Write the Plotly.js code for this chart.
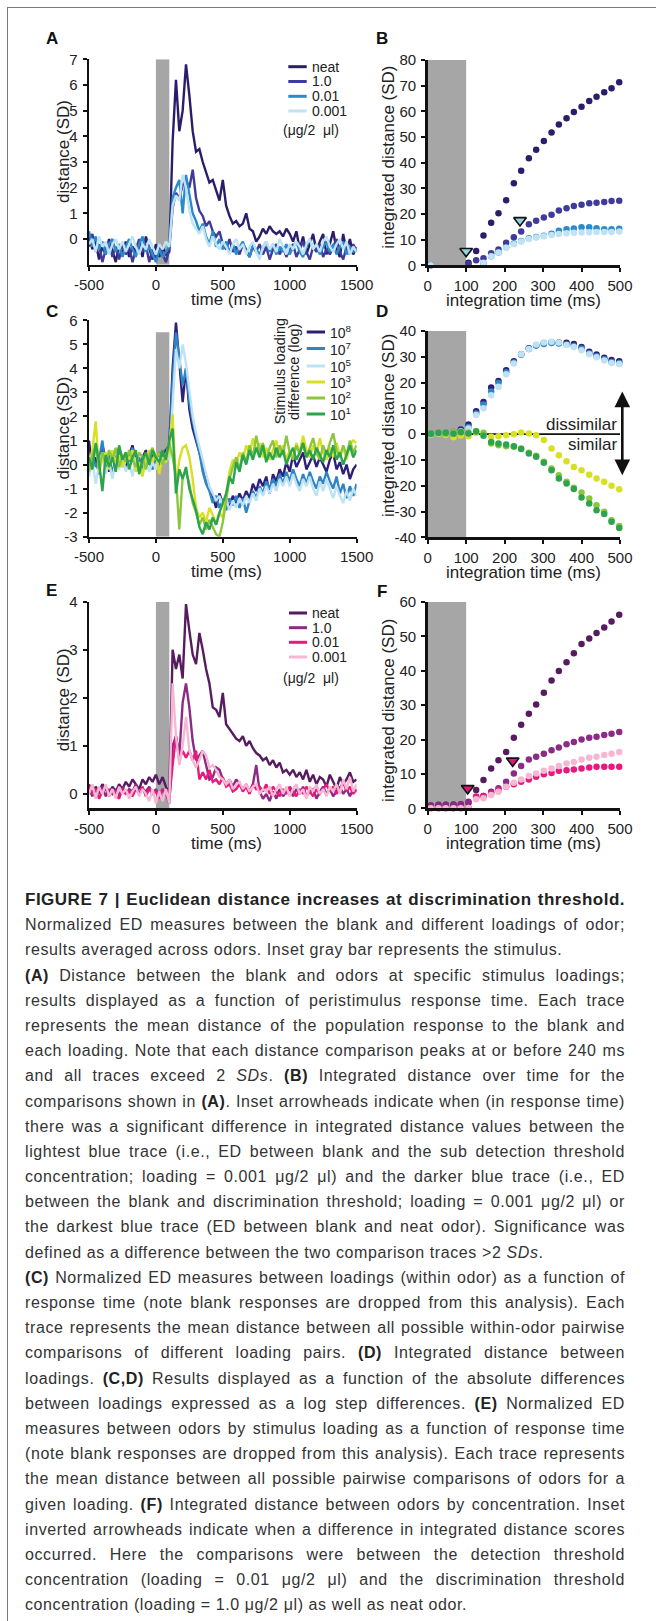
<!DOCTYPE html>
<html><head><meta charset="utf-8">
<script src="https://cdn.plot.ly/plotly-3.0.1.min.js"></script>
<style>
html,body{margin:0;padding:0;background:#fff;}
#wrap{position:relative;width:656px;height:1621px;overflow:hidden;background:#fff;}
#chart{position:absolute;left:0;top:0;width:656px;height:1621px;}
#frame{position:absolute;left:7px;top:7px;width:700px;height:1700px;border-top:1.5px solid #7a7a7a;border-left:1.5px solid #7a7a7a;pointer-events:none;}
#caption{position:absolute;left:25px;top:887px;width:600px;font-family:"Liberation Sans",Arial,sans-serif;font-size:16px;line-height:25.2px;letter-spacing:0.6px;color:#333;}
#caption div{width:600px;height:25.2px;text-align:justify;text-align-last:justify;white-space:normal;overflow:visible;}
#caption div.end{text-align:left;text-align-last:left;}
#caption .t{font-weight:bold;font-size:17px;letter-spacing:0.5px;color:#222;}
#caption b{color:#222;}
</style></head>
<body>
<div id="wrap">
<div id="chart"></div>
<div id="frame"></div>
<div id="caption">
<div class="t">FIGURE 7 | Euclidean distance increases at discrimination threshold.</div>
<div>Normalized ED measures between the blank and different loadings of odor;</div>
<div class="end">results averaged across odors. Inset gray bar represents the stimulus.</div>
<div><b>(A)</b> Distance between the blank and odors at specific stimulus loadings;</div>
<div>results displayed as a function of peristimulus response time. Each trace</div>
<div>represents the mean distance of the population response to the blank and</div>
<div>each loading. Note that each distance comparison peaks at or before 240 ms</div>
<div>and all traces exceed 2 <i>SDs</i>. <b>(B)</b> Integrated distance over time for the</div>
<div>comparisons shown in <b>(A)</b>. Inset arrowheads indicate when (in response time)</div>
<div>there was a significant difference in integrated distance values between the</div>
<div>lightest blue trace (i.e., ED between blank and the sub detection threshold</div>
<div>concentration; loading = 0.001 μg/2 μl) and the darker blue trace (i.e., ED</div>
<div>between the blank and discrimination threshold; loading = 0.001 μg/2 μl) or</div>
<div>the darkest blue trace (ED between blank and neat odor). Significance was</div>
<div class="end">defined as a difference between the two comparison traces &gt;2 <i>SDs</i>.</div>
<div><b>(C)</b> Normalized ED measures between loadings (within odor) as a function of</div>
<div>response time (note blank responses are dropped from this analysis). Each</div>
<div>trace represents the mean distance between all possible within-odor pairwise</div>
<div>comparisons of different loading pairs. <b>(D)</b> Integrated distance between</div>
<div>loadings. <b>(C,D)</b> Results displayed as a function of the absolute differences</div>
<div>between loadings expressed as a log step differences. <b>(E)</b> Normalized ED</div>
<div>measures between odors by stimulus loading as a function of response time</div>
<div>(note blank responses are dropped from this analysis). Each trace represents</div>
<div>the mean distance between all possible pairwise comparisons of odors for a</div>
<div>given loading. <b>(F)</b> Integrated distance between odors by concentration. Inset</div>
<div>inverted arrowheads indicate when a difference in integrated distance scores</div>
<div>occurred. Here the comparisons were between the detection threshold</div>
<div>concentration (loading = 0.01 μg/2 μl) and the discrimination threshold</div>
<div class="end">concentration (loading = 1.0 μg/2 μl) as well as neat odor.</div>
</div>
</div>
<script>
// ---------------- DATA ----------------
const timeMs = [-500,-475,-450,-425,-400,-375,-350,-325,-300,-275,-250,-225,-200,-175,-150,-125,-100,-75,-50,-25,0,25,50,75,100,125,150,175,200,225,250,275,300,325,350,375,400,425,450,475,500,525,550,575,600,625,650,675,700,725,750,775,800,825,850,875,900,925,950,975,1000,1025,1050,1075,1100,1125,1150,1175,1200,1225,1250,1275,1300,1325,1350,1375,1400,1425,1450,1475,1500];
const intTimeMs = [8,28,47,67,86,106,126,145,165,184,204,224,243,263,282,302,322,341,361,380,400,420,439,459,478,498];
const stimulusMs = [0, 100];

// Panel A: distance vs time, by loading
const loadingLabels = ['neat','1.0','0.01','0.001'];
const aNeat = [0.2,-0.4,-0.1,-0.8,-0.3,-0.6,0.0,-0.5,-0.9,-0.2, -0.6,-0.1,-0.7,-0.3,-0.5,-0.2,-0.7,0.1,-0.4,-0.8, -0.2,-0.7,-0.3,-0.6,-0.5,3.8,6.2,4.2,5.0,6.8, 5.6,4.2,3.4,3.5,3.0,2.6,2.2,2.3,1.9,1.5, 2.3,1.3,0.9,0.6,0.7,0.5,0.6,1.0,0.4,0.3, -0.1,0.1,0.4,0.2,0.5,0.3,0.2,0.3,0.1,0.4, 0.2,-0.1,0.3,-0.4,0.1,-0.6,-0.2,0.2,-0.5,-0.1, 0.2,-0.6,-0.2,0.3,-0.4,-0.7,0.2,-0.5,0.0,-0.6,-0.3];
const a10 = [-0.3,0.2,-0.5,-0.2,-0.9,-0.4,-0.1,-0.7,-0.3,-0.8, -0.2,-0.6,-0.3,-0.9,-0.4,0.0,-0.5,-0.2,-0.9,-0.4, -0.8,-0.3,-0.6,-0.9,-0.4,1.2,1.8,1.6,2.1,2.3, 2.0,2.7,1.6,1.1,0.9,0.5,0.7,0.3,0.1,0.3, -0.2,-0.4,0.0,-0.5,-0.3,-0.6,-0.2,-0.4,-0.7,-0.3, -0.5,-0.2,-0.6,-0.3,-0.8,-0.4,-0.2,-0.6,-0.3,-0.7, -0.4,-0.2,-0.7,-0.4,-0.1,-0.5,-0.8,-0.3,-0.5,-0.2, -0.7,-0.4,-0.6,-0.3,0.0,-0.5,-0.8,-0.3,-0.6,-0.2,-0.5];
const a001 = [0.3,-0.3,0.1,-0.4,-0.1,-0.6,-0.2,0.0,-0.5,-0.2, -0.7,-0.3,0.0,-0.4,-0.7,-0.2,0.1,-0.5,-0.3,-0.6, -0.9,-0.4,-0.7,-0.5,-0.3,1.6,2.0,2.3,1.0,2.5, 1.8,1.0,0.7,0.3,0.6,0.1,-0.2,0.3,-0.3,0.0, -0.4,-0.1,-0.5,-0.2,-0.6,-0.3,-0.1,-0.5,-0.7,-0.2, -0.4,-0.6,-0.3,-0.1,-0.5,-0.2,-0.6,-0.3,-0.5,-0.2, -0.6,-0.3,-0.1,-0.5,-0.7,-0.3,0.0,-0.4,-0.2,-0.6, -0.3,-0.1,-0.5,-0.2,-0.6,-0.3,-0.1,-0.6,-0.3,-0.5,-0.4];
const a0001 = [-0.2,0.0,-0.5,0.1,-0.3,-0.1,-0.6,-0.2,0.0,-0.4, -0.1,-0.5,-0.2,0.1,-0.3,-0.6,-0.2,-0.4,0.0,-0.3, -0.6,-0.2,-0.4,-0.1,-0.3,1.3,1.7,1.5,2.5,2.0, 1.1,0.6,0.4,0.2,0.5,0.0,-0.3,0.1,-0.2,-0.4, -0.1,-0.3,-0.6,-0.2,0.0,-0.4,-0.2,-0.6,-0.3,-0.1, -0.5,-0.8,-0.3,-0.1,-0.4,-0.2,-0.5,0.0,-0.3,-0.6, -0.2,-0.4,-0.1,-0.3,-0.6,-0.2,0.0,-0.4,-0.2,-0.5, -0.1,0.1,-0.3,-0.5,-0.2,0.0,-0.4,-0.1,-0.6,-0.3,-0.5];

// Panel B: integrated distance
const bNeat = [0,-0.5,-0.8,-0.8,-0.5,1.0,5.6,11.6,16.6,20.3,25.3,32.0,36.8,41.7,45.0,48.4,51.7,54.9,57.3,59.7,61.8,64.0,65.7,67.4,69.0,71.3];
const b10 = [0,-0.3,-0.5,-0.6,-0.3,0.5,2.0,2.7,4.7,6.2,8.8,10.9,13.2,16.0,17.4,18.6,19.7,21.4,22.2,23.1,23.6,24.2,24.4,24.7,25.1,25.2];
const b001 = [-0.5,-1.0,-1.2,-1.3,-1.5,-2.0,-0.8,0.8,3.5,5.0,7.0,8.5,9.5,10.5,11.0,11.5,12.3,13.5,14.0,14.3,14.8,14.8,14.4,14.0,14.0,14.2];
const b0001 = [0,-0.5,-0.8,-1.0,-1.5,-2.0,-1.0,1.0,3.5,5.0,6.8,8.2,9.3,10.2,10.8,11.3,11.8,12.2,12.5,12.7,12.8,12.9,13.0,13.0,13.0,13.2];
const bArrowT = [100, 240];
const bArrowY = [5.5, 17.5];

// Panel C: distance between loadings (log step difference)
const stepLabels = ['10<sup>8</sup>','10<sup>7</sup>','10<sup>5</sup>','10<sup>3</sup>','10<sup>2</sup>','10<sup>1</sup>'];
const c8 = [1.0,-0.2,0.3,-0.4,0.8,0.2,-0.3,0.5,0.1,0.7, 0.2,-0.2,0.4,0.8,0.1,-0.3,0.3,0.6,0.0,0.4, 0.2,0.5,0.3,0.6,0.8,4.0,5.9,4.3,2.6,4.0, 2.3,1.5,1.0,0.6,0.0,-0.5,-1.0,-1.3,-1.8,-1.2, -1.6,-1.4,-1.8,-1.3,-1.6,-1.2,-1.5,-1.1,-1.4,-0.8, -1.1,-0.6,-0.9,-0.5,-1.2,-0.4,-0.7,-0.2,-0.5,0.1, -0.3,0.4,-0.1,0.2,0.5,-0.2,0.1,0.4,-0.1,0.3, 0.0,-0.3,0.2,0.5,-0.2,0.1,-0.4,0.0,-0.6,-0.2,0.0];
const c7 = [-0.3,0.5,-0.1,0.2,1.0,-0.2,0.4,-0.4,0.3,0.6, -0.1,0.5,0.0,0.7,-0.2,0.3,-0.3,0.4,0.1,-0.2, 0.3,0.0,0.4,0.2,0.5,3.5,5.5,4.5,3.3,4.0, 2.6,1.8,1.2,0.5,-0.3,-0.8,-1.1,-1.6,-1.3,-1.8, -1.5,-1.9,-1.4,-1.7,-1.3,-1.8,-1.4,-2.0,-1.5,-1.1, -1.4,-0.9,-1.2,-0.7,-1.0,-0.6,-0.9,-0.4,-0.8,-0.3, -0.7,-0.2,-0.6,-0.9,-0.4,-0.8,-0.3,-0.7,-1.0,-0.5, -0.8,-0.3,-0.7,-1.0,-0.5,-1.2,-0.8,-1.4,-0.9,-1.3,-0.8];
const c5 = [-0.5,0.2,-0.8,0.0,0.5,-0.4,0.1,-0.6,0.2,-0.2, 0.4,-0.3,0.1,-0.5,0.3,-0.1,-0.4,0.2,-0.3,0.1, -0.2,0.3,0.0,0.4,0.2,2.5,4.8,4.0,5.0,4.2, 3.0,2.0,1.3,0.8,0.2,-0.4,-0.9,-1.2,-1.5,-1.3, -1.7,-1.4,-1.9,-1.5,-1.8,-1.4,-1.7,-1.3,-1.6,-1.2, -1.5,-1.0,-1.3,-0.9,-1.2,-0.8,-1.1,-0.6,-0.9,-0.5, -0.9,-0.4,-0.8,-1.1,-0.6,-0.9,-0.5,-1.0,-1.3,-0.7, -1.1,-0.6,-1.0,-1.4,-0.9,-1.3,-1.6,-1.1,-1.5,-1.0,-1.3];
const c3 = [0.0,0.6,1.8,-0.3,0.2,0.5,-0.2,0.6,0.1,0.4, -0.1,0.5,0.2,0.6,-0.3,0.1,-0.5,0.3,0.6,0.1, 0.5,-0.4,0.3,0.1,0.6,2.1,-0.8,0.2,0.7,0.8, 0.3,-0.6,-1.8,-2.2,-2.0,-2.4,-1.8,-2.1,-2.5,-2.0, -2.2,-1.2,-0.3,0.2,0.0,0.5,0.2,0.8,0.4,1.1, 0.6,0.9,0.3,0.7,0.2,0.6,1.0,0.4,0.8,0.2, 0.6,0.3,0.9,0.5,1.2,0.6,0.3,0.8,0.4,1.1, 0.5,0.2,0.7,0.3,0.9,0.4,0.7,0.2,0.8,1.0,0.9];
const c2 = [-0.3,0.4,0.8,-0.2,0.5,0.0,0.6,0.2,0.7,-0.1, 0.4,0.1,0.6,0.2,-0.1,0.5,0.3,-0.2,0.4,0.7, 0.2,0.5,0.0,0.4,0.9,0.3,-0.5,-2.7,-0.5,-0.3, -0.8,-1.6,-2.0,-2.5,-2.2,-2.7,-2.3,-2.6,-2.9,-3.0, -2.4,-1.5,-0.6,-0.1,0.3,-0.2,0.5,0.1,0.8,0.3, 1.2,0.5,0.9,0.2,0.7,1.0,0.3,0.8,0.4,1.2, 0.5,0.2,0.8,0.4,0.9,0.3,0.7,1.1,0.5,0.2, 0.8,0.4,0.9,1.3,0.6,0.3,0.8,0.4,1.0,0.5,0.8];
const c1 = [0.3,-0.2,0.9,0.1,-1.1,0.4,-0.1,0.3,-0.3,0.8, 0.2,0.5,-0.2,0.3,0.6,-0.4,0.2,0.5,0.0,0.6, 0.3,0.1,0.6,0.2,1.0,1.5,-1.2,-0.2,-0.6,-0.1, -1.0,-1.5,-1.9,-2.6,-2.9,-2.4,-2.7,-2.2,-2.5,-2.0, -1.6,-1.2,-0.5,-0.8,0.1,-0.3,0.4,0.0,0.6,0.2, 0.7,0.3,0.8,0.1,0.5,0.2,0.7,0.3,0.6,0.0, 0.4,0.7,0.2,0.5,0.9,0.3,0.6,0.2,0.7,0.4, 0.1,0.6,0.3,0.8,0.2,0.5,0.0,0.4,0.8,0.3,0.6];

// Panel D: integrated distance between loadings
const d8 = [0.3,0.5,0.2,0.8,1.8,3.7,8.9,12.5,18.1,20.6,24.8,28.3,31.0,33.3,34.5,35.3,35.6,35.5,35.4,35.0,33.8,32.0,30.9,29.6,28.8,28.3];
const d7 = [0.0,0.3,0.5,0.6,1.2,2.8,8.0,11.5,16.5,19.8,24.0,27.8,30.8,33.0,34.4,35.0,35.3,35.2,34.8,34.2,33.2,31.4,30.2,29.0,28.0,27.6];
const d5 = [-0.2,0.2,0.4,0.5,1.0,2.2,7.4,10.0,15.1,18.4,23.2,27.4,31.0,33.0,34.8,35.5,35.8,35.5,34.6,33.8,32.5,31.0,29.8,28.6,27.6,27.2];
const d3 = [0.0,0.3,-0.3,-1.2,-0.5,-0.8,0.5,0.0,-1.0,-0.8,-0.4,0.0,0.6,0.3,-0.4,-2.3,-5.6,-8.2,-10.5,-12.7,-14.0,-15.7,-17.2,-18.5,-20.0,-21.4];
const d2 = [0.3,0.6,0.2,0.8,0.9,0.6,1.2,0.5,-3.6,-4.3,-4.7,-4.9,-5.6,-7.2,-8.4,-10.7,-13.3,-15.9,-18.5,-20.8,-22.6,-25.0,-27.6,-30.1,-33.4,-35.6];
const d1 = [0.1,0.4,0.5,0.2,0.7,0.3,1.0,-0.6,-3.0,-3.6,-4.0,-4.7,-5.8,-7.5,-8.8,-11.1,-14.0,-17.2,-19.1,-21.3,-24.6,-26.9,-29.5,-31.0,-34.0,-36.4];
const dArrowT = 506;          // position of the similar/dissimilar double arrow (ms)
const dArrowY = [16.5, -16.5]; // its ends (SD)

// Panel E: distance between odors by loading
const eNeat = [0.2,0.0,0.15,0.05,0.2,0.1,0.0,0.15,0.05,0.2, 0.1,0.25,0.15,0.3,0.2,0.1,0.3,0.2,0.35,0.25, 0.4,0.2,0.35,0.15,0.0,3.0,2.6,2.9,2.4,3.95, 3.4,2.9,2.7,3.35,3.0,2.6,2.3,1.8,1.75,1.6, 2.1,1.45,1.35,1.25,1.15,1.1,1.2,1.0,1.1,0.95, 0.85,0.8,0.7,0.75,0.6,0.7,0.55,0.65,0.45,0.5, 0.4,0.5,0.35,0.45,0.3,0.5,0.25,0.4,0.2,0.35, 0.3,0.15,0.4,0.25,0.1,0.35,0.2,0.3,0.45,0.25,0.3];
const e10 = [0.1,-0.05,0.1,0.0,0.15,-0.05,0.1,0.0,0.1,-0.05, 0.15,0.0,0.1,0.05,0.2,0.0,0.1,0.05,0.15,0.0, 0.1,-0.05,0.1,0.0,-0.2,1.0,1.2,0.8,1.9,2.3, 1.8,1.1,0.7,0.8,0.9,0.6,0.3,0.35,0.55,0.5, 0.3,0.2,0.3,0.15,0.3,0.2,0.1,0.2,0.05,0.2, 0.6,0.05,-0.1,0.0,-0.15,0.05,-0.1,0.1,-0.05,0.05, 0.1,-0.05,0.1,0.0,0.15,-0.05,0.05,0.1,-0.1,0.05, 0.15,0.0,0.1,-0.05,0.05,0.15,0.0,0.1,-0.05,0.1,0.05];
const e001 = [0.15,0.0,0.1,-0.1,0.05,0.15,-0.05,0.1,0.0,-0.1, 0.1,0.0,0.05,-0.05,0.1,0.0,0.15,-0.05,0.1,0.0, 0.05,-0.1,0.1,0.0,-0.1,0.6,1.2,0.7,0.9,0.75, 0.9,0.7,0.9,0.3,0.45,0.3,0.5,0.25,0.3,0.2, 0.35,0.15,0.2,0.05,0.1,0.2,0.05,0.15,0.0,0.2, 0.1,0.15,0.05,0.2,0.0,0.15,0.05,-0.05,0.1,0.0, 0.15,0.05,-0.05,0.1,0.0,0.15,0.05,-0.05,0.1,0.0, 0.1,0.2,0.05,0.15,0.0,0.1,0.25,0.05,0.15,0.0,0.1];
const e0001 = [0.0,0.2,-0.1,0.15,0.0,0.2,-0.05,0.1,-0.1,0.15, 0.0,0.1,-0.1,0.05,0.15,-0.05,0.1,0.0,-0.15,0.1, -0.2,0.05,-0.15,0.1,-0.2,2.3,1.2,0.6,1.0,1.6, 0.9,0.7,0.55,0.7,0.9,0.8,0.55,0.6,0.5,0.35, 0.3,0.2,0.3,0.1,0.2,0.25,0.1,0.2,0.05,0.15, 0.2,0.0,0.1,0.05,0.15,-0.05,0.1,0.2,0.0,0.15, -0.05,0.1,0.2,0.0,0.1,-0.1,0.15,0.05,0.2,0.0, 0.1,-0.05,0.15,0.05,0.2,0.0,0.3,0.1,0.35,0.05,0.2];

// Panel F: integrated distance between odors
const fNeat = [0.8,1.0,1.0,1.1,1.2,1.6,5.3,8.2,11.6,14.0,16.4,20.5,24.3,27.5,30.2,33.6,37.2,39.9,42.5,45.1,47.8,49.4,51.0,52.6,54.3,56.3];
const f10 = [0.8,0.9,1.0,1.0,1.1,1.9,3.2,3.6,4.8,5.8,7.7,10.1,12.3,14.2,15.0,15.9,16.9,17.7,18.6,19.3,20.0,20.5,20.8,21.3,21.7,22.2];
const f001 = [0,0,0,0,0,0.2,3.4,3.6,4.3,5.3,6.3,7.0,7.7,8.4,9.2,9.9,10.3,10.9,11.1,11.3,11.6,11.9,12.1,12.1,12.1,12.1];
const f0001 = [0,0,0,0,0,0.1,2.6,2.9,3.9,4.8,6.3,7.4,8.4,9.4,10.1,10.9,11.6,12.3,13.0,13.5,14.2,14.7,15.0,15.5,15.9,16.4];
const fArrowT = [104, 221];
const fArrowY = [5.8, 13.8];

// tick labels
const timeTicks = [-500,0,500,1000,1500];
const timeTickText = ['-500','0','500','1000','1500'];
const intTicks = [0,100,200,300,400,500];
const aTicks = [0,1,2,3,4,5,6,7];
const bTicks = [0,10,20,30,40,50,60,70,80];
const cTicks = [-3,-2,-1,0,1,2,3,4,5,6];
const cTickText = ['-3','-2','-1','0','1','2','3','4','5','6'];
const dTicks = [-40,-30,-20,-10,0,10,20,30,40];
const dTickText = ['-40','-30','-20','-10','0','10','20','30','40'];
const eTicks = [0,1,2,3,4];
const fTicks = [0,10,20,30,40,50,60];

// ---------------- STYLE ----------------
const FONT = '"Liberation Sans", Arial, Helvetica, sans-serif';
const blueCols = ['#2c1d6b','#3f3b9a','#2a8bcb','#bfe3f4'];
const stepCols = ['#2e1f78','#2f84c4','#bde2f3','#d8e022','#8cc63f','#2ba44b'];
const pinkCols = ['#571c5f','#8c2a88','#e8197d','#f6b7d3'];
const W = 656, H = 1621;
const px = v => v / W;
const py = v => 1 - v / H;

const dom = {
  A:{x:[89,356.6], y:[59.3,264.7]},
  B:{x:[427.7,620], y:[60,265.3]},
  C:{x:[89,356.6], y:[320.3,536.7]},
  D:{x:[427.7,620], y:[331,537.3]},
  E:{x:[89,356.6], y:[601.7,808.3]},
  F:{x:[427.7,620], y:[602,808.3]}
};

function baseAxis(){
  return {showline:true, linecolor:'#111', linewidth:2.5, ticks:'outside', ticklen:4, tickwidth:2,
    tickcolor:'#111', showgrid:false, zeroline:false, fixedrange:true,
    tickfont:{family:FONT, size:15, color:'#222'}};
}
function xAx(d, range, vals, text, anchor){
  const a = baseAxis();
  Object.assign(a, {domain:[px(d.x[0]), px(d.x[1])], range, tickmode:'array', tickvals:vals, anchor, ticklabelstandoff:1});
  if (text) a.ticktext = text;
  return a;
}
function yAx(d, range, vals, text, anchor){
  const a = baseAxis();
  Object.assign(a, {domain:[py(d.y[1]), py(d.y[0])], range, tickmode:'array', tickvals:vals, anchor, ticklabelstandoff:2});
  if (text) a.ticktext = text;
  return a;
}

const traces = [];
function lines(x, ys, cols, xa, ya){
  ys.forEach((y,i) => traces.push({type:'scatter', mode:'lines', x, y, xaxis:xa, yaxis:ya,
    line:{color:cols[i], width:2.4}, hoverinfo:'skip', showlegend:false}));
}
function dots(x, ys, cols, xa, ya){
  ys.forEach((y,i) => traces.push({type:'scatter', mode:'markers', x, y, xaxis:xa, yaxis:ya, cliponaxis:false,
    marker:{color:cols[i], size:6.5}, hoverinfo:'skip', showlegend:false}));
}
function arrows(x, y, fill, xa, ya){
  traces.push({type:'scatter', mode:'markers', x, y, xaxis:xa, yaxis:ya, cliponaxis:false,
    marker:{symbol:'triangle-down', size:11, color:fill, line:{color:'#111', width:1.6}},
    hoverinfo:'skip', showlegend:false});
}

lines(timeMs, [aNeat,a10,a001,a0001], blueCols, 'x', 'y');
dots(intTimeMs, [bNeat,b10,b001,b0001], blueCols, 'x2', 'y2');
arrows(bArrowT, bArrowY, '#93d3df', 'x2', 'y2');
lines(timeMs, [c8,c7,c5,c3,c2,c1], stepCols, 'x3', 'y3');
dots(intTimeMs, [d8,d7,d5,d3,d2,d1], stepCols, 'x4', 'y4');
lines(timeMs, [eNeat,e10,e001,e0001], pinkCols, 'x5', 'y5');
dots(intTimeMs, [fNeat,f10,f001,f0001], pinkCols, 'x6', 'y6');
arrows(fArrowT, fArrowY, '#e3177b', 'x6', 'y6');

// ---------------- SHAPES ----------------
const shapes = [];
function bar(xr, yr, y0, y1){
  shapes.push({type:'rect', xref:xr, yref:yr, x0:stimulusMs[0], x1:stimulusMs[1], y0, y1,
    fillcolor:'#a6a6a6', line:{width:0}, layer:'below'});
}
bar('x','y',-1,7); bar('x2','y2',0,80); bar('x3','y3',-3,5.5);
bar('x4','y4',-40,40); bar('x5','y5',-0.3,4); bar('x6','y6',0,60);
shapes.push({type:'line', xref:'x4', yref:'y4', x0:stimulusMs[1], x1:500, y0:0, y1:0,
  line:{color:'#111', width:1.6}, layer:'below'});

const annotations = [];
function txt(x, y, text, opt){
  annotations.push(Object.assign({xref:'paper', yref:'paper', x:px(x), y:py(y), text, showarrow:false,
    xanchor:'center', yanchor:'middle', borderpad:0, font:{family:FONT, size:17, color:'#222'}}, opt||{}));
}
function legend(x0, x1, ys, cols, labels, size, w){
  ys.forEach((y,i) => {
    shapes.push({type:'line', xref:'paper', yref:'paper', x0:px(x0), x1:px(x1), y0:py(y), y1:py(y),
      line:{color:cols[i], width:w}});
    txt(x1+4, y, labels[i], {xanchor:'left', font:{family:FONT, size:size, color:'#222'}});
  });
}
legend(288.3, 306.7, [66.7,81.5,96.3,111], blueCols, loadingLabels, 14, 3);
txt(281.7, 130, '(μg/2\u00a0\u00a0μl)', {xanchor:'left', font:{family:FONT, size:14, color:'#222'}});
legend(289, 307, [613,627.7,642.3,657], pinkCols, loadingLabels, 14, 3);
txt(281.7, 677.5, '(μg/2\u00a0\u00a0μl)', {xanchor:'left', font:{family:FONT, size:14, color:'#222'}});
legend(306.7, 325, [332,348.5,366,382,398,414], stepCols, stepLabels, 14, 3);
txt(280, 371.3, 'Stimulus loading', {textangle:-90, font:{family:FONT, size:14.5, color:'#222'}});
txt(293.3, 371.7, 'difference (log)', {textangle:-90, font:{family:FONT, size:14.5, color:'#222'}});

// panel letters
[['A',51.7,38],['B',381.7,38],['C',51.7,311.7],['D',381.7,311.7],['E',51.7,590],['F',381.7,591.7]]
  .forEach(p => txt(p[1], p[2], '<b>'+p[0]+'</b>', {font:{family:FONT, size:17, color:'#111'}}));

// axis titles
const xTitleGap = 35;
txt(226.7, dom.A.y[1] + xTitleGap, 'time (ms)');
txt(63.3, 151.7, 'distance (SD)', {textangle:-90});
txt(523.3, dom.B.y[1] + xTitleGap, 'integration time (ms)');
txt(388.3, 157.5, 'integrated distance (SD)', {textangle:-90});
txt(226.7, dom.C.y[1] + xTitleGap, 'time (ms)');
txt(63.3, 428.3, 'distance (SD)', {textangle:-90});
txt(523.3, dom.D.y[1] + xTitleGap, 'integration time (ms)');
txt(388.3, 425.7, 'integrated distance (SD)', {textangle:-90});
txt(226.7, dom.E.y[1] + xTitleGap, 'time (ms)');
txt(63.3, 700, 'distance (SD)', {textangle:-90});
txt(523.3, dom.F.y[1] + xTitleGap, 'integration time (ms)');
txt(388.3, 710.7, 'integrated distance (SD)', {textangle:-90});

// D: dissimilar / similar with a double arrow (placed through D's own scale)
txt(618.3, 424.3, 'dissimilar', {xanchor:'right'});
txt(618.3, 444.3, 'similar', {xanchor:'right'});
const dX = d => dom.D.x[0] + (d / 500) * (dom.D.x[1] - dom.D.x[0]);
const dY = v => dom.D.y[1] - (v + 40) / 80 * (dom.D.y[1] - dom.D.y[0]);
annotations.push({xref:'paper', yref:'paper', x:px(dX(dArrowT)), y:py(dY(dArrowY[0])),
  ax:0, ay:dY(dArrowY[1]) - dY(dArrowY[0]), text:'', showarrow:true, arrowhead:2, arrowside:'end+start',
  arrowsize:1.2, arrowwidth:2.6, arrowcolor:'#111', standoff:0, startstandoff:0});

const layout = {
  width:W, height:H, margin:{l:0,r:0,t:0,b:0}, paper_bgcolor:'rgba(0,0,0,0)', plot_bgcolor:'rgba(0,0,0,0)',
  showlegend:false, font:{family:FONT, color:'#222'},
  xaxis: xAx(dom.A, [-500,1500], timeTicks, timeTickText, 'y'),
  yaxis: yAx(dom.A, [-1,7], aTicks, null, 'x'),
  xaxis2: xAx(dom.B, [0,500], intTicks, null, 'y2'),
  yaxis2: yAx(dom.B, [0,80], bTicks, null, 'x2'),
  xaxis3: xAx(dom.C, [-500,1500], timeTicks, timeTickText, 'y3'),
  yaxis3: yAx(dom.C, [-3,6], cTicks, cTickText, 'x3'),
  xaxis4: xAx(dom.D, [0,500], intTicks, null, 'y4'),
  yaxis4: yAx(dom.D, [-40,40], dTicks, dTickText, 'x4'),
  xaxis5: xAx(dom.E, [-500,1500], timeTicks, timeTickText, 'y5'),
  yaxis5: yAx(dom.E, [-0.3,4], eTicks, null, 'x5'),
  xaxis6: xAx(dom.F, [0,500], intTicks, null, 'y6'),
  yaxis6: yAx(dom.F, [0,60], fTicks, null, 'x6'),
  shapes, annotations
};
Plotly.newPlot('chart', traces, layout, {staticPlot:true, displayModeBar:false});
</script>
</body></html>
